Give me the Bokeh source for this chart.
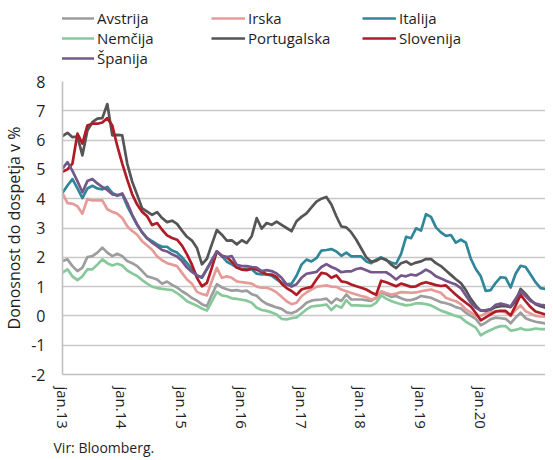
import pandas as pd
from bokeh.plotting import figure
from bokeh.layouts import column
from bokeh.models import Range1d, FixedTicker, Legend, LegendItem, Title, ColumnDataSource
from bokeh.embed import file_html
from bokeh.resources import INLINE

# monthly observations starting jan. 2013
months = pd.date_range("2013-01-01", periods=98, freq="MS")

avstrija = [1.87, 1.93, 1.7, 1.53, 1.65, 2.01, 2.04, 2.16, 2.33, 2.16,
            2.04, 2.12, 2.04, 1.87, 1.8, 1.7, 1.53, 1.35, 1.3, 1.24,
            1.1, 1.17, 1.06, 0.97, 0.84, 0.74, 0.61, 0.52, 0.4, 0.33,
            0.72, 1.08, 0.97, 0.91, 0.86, 0.88, 0.84, 0.86, 0.74, 0.69,
            0.52, 0.41, 0.35, 0.29, 0.24, 0.12, 0.09, 0.16, 0.29, 0.45,
            0.52, 0.55, 0.56, 0.59, 0.43, 0.59, 0.51, 0.73, 0.56, 0.56,
            0.56, 0.54, 0.51, 0.62, 0.81, 0.73, 0.65, 0.68, 0.6, 0.54,
            0.54, 0.59, 0.68, 0.65, 0.62, 0.54, 0.47, 0.43, 0.38, 0.3,
            0.25, 0.11, 0.0, -0.1, -0.32, -0.23, -0.11, -0.06, -0.08, -0.1,
            -0.25, -0.06, 0.11, -0.08, -0.15, -0.2, -0.23, -0.26]

irska = [4.19, 3.85, 3.83, 3.74, 3.49, 3.99, 3.94, 3.94, 3.94, 3.64,
         3.55, 3.49, 3.34, 3.06, 2.9, 2.77, 2.55, 2.4, 2.26, 2.03,
         1.9, 1.8, 1.75, 1.7, 1.47, 1.24, 1.1, 0.82, 0.75, 0.7,
         1.2, 1.64, 1.3, 1.35, 1.3, 1.18, 1.15, 1.13, 1.1, 1.0,
         0.96, 0.96, 0.9, 0.8, 0.65, 0.5, 0.4, 0.45, 0.67, 0.8,
         0.9, 0.99, 1.02, 1.04, 1.0, 0.99, 0.9, 0.84, 0.78, 0.73,
         0.68, 0.64, 0.56, 0.6, 0.84, 0.78, 0.73, 0.76, 0.81, 0.8,
         0.79, 0.8, 0.84, 0.87, 0.9, 0.84, 0.79, 0.62, 0.55, 0.5,
         0.4, 0.22, 0.12, 0.0, 0.0, 0.08, 0.12, 0.16, 0.16, 0.12,
         0.0, 0.2, 0.36, 0.16, 0.08, 0.0, -0.02, -0.03]

italija = [4.2, 4.45, 4.67, 4.35, 4.02, 4.35, 4.44, 4.35, 4.32, 4.4,
           4.2, 4.1, 4.15, 3.75, 3.42, 3.1, 2.85, 2.65, 2.55, 2.44,
           2.36, 2.36, 2.23, 2.16, 2.0, 1.8, 1.6, 1.38, 1.3, 1.6,
           1.9, 2.2, 2.04, 1.85, 1.76, 1.65, 1.59, 1.61, 1.59, 1.44,
           1.42, 1.42, 1.37, 1.25, 1.14, 1.08, 1.1, 1.37, 1.75, 1.92,
           1.86, 1.97, 2.23, 2.25, 2.28, 2.2, 2.05, 2.16, 2.03, 2.03,
           2.03, 1.86, 1.8, 1.92, 2.0, 1.9, 1.82, 1.78, 2.12, 2.7,
           2.65, 2.99, 2.91, 3.47, 3.38, 3.02, 2.85, 2.73, 2.76, 2.5,
           2.6, 2.5, 1.95, 1.6, 1.35, 0.85, 0.88, 1.13, 1.32, 1.3,
           0.97, 1.44, 1.71, 1.67, 1.41, 1.15, 0.95, 0.92]

nemcija = [1.48, 1.59, 1.35, 1.22, 1.35, 1.59, 1.59, 1.75, 1.93, 1.8,
           1.72, 1.78, 1.72, 1.55, 1.45, 1.36, 1.22, 1.1, 1.0, 0.95,
           0.92, 0.9, 0.88, 0.78, 0.65, 0.5, 0.42, 0.35, 0.25, 0.18,
           0.5, 0.82, 0.7, 0.67, 0.6, 0.58, 0.55, 0.52, 0.45, 0.28,
           0.2, 0.17, 0.12, 0.05, -0.1, -0.12, -0.08, -0.05, 0.08, 0.22,
           0.32, 0.34, 0.36, 0.39, 0.2, 0.36, 0.28, 0.54, 0.36, 0.36,
           0.35, 0.34, 0.34, 0.45, 0.7, 0.59, 0.51, 0.45, 0.4, 0.36,
           0.38, 0.43, 0.43, 0.4, 0.36, 0.27, 0.18, 0.12, 0.06, 0.0,
           -0.05, -0.2, -0.3, -0.4, -0.66, -0.56, -0.48, -0.4, -0.35, -0.35,
           -0.5, -0.48, -0.42, -0.48, -0.47, -0.43, -0.45, -0.45]

portugalska = [6.14, 6.25, 6.1, 6.12, 5.48, 6.33, 6.61, 6.73, 6.75, 7.23,
               6.16, 6.18, 6.16, 5.2, 4.58, 4.13, 3.67, 3.56, 3.45, 3.54,
               3.34, 3.2, 3.25, 3.14, 2.91, 2.7, 2.57, 2.32, 1.76, 1.95,
               2.45, 2.93, 2.77, 2.57, 2.58, 2.44, 2.58, 2.49, 2.72, 3.34,
               2.98, 3.17, 3.11, 3.22, 3.11, 3.0, 2.89, 3.23, 3.38, 3.5,
               3.7, 3.9, 4.0, 4.06, 3.8, 3.4, 3.05, 3.02, 2.85, 2.6,
               2.3, 2.0, 1.85, 1.88, 1.97, 1.92, 1.75, 1.63, 1.8, 1.86,
               1.75, 1.82, 1.86, 1.94, 1.94, 1.8, 1.7, 1.55, 1.4, 1.25,
               1.12, 0.88, 0.58, 0.35, 0.18, 0.17, 0.22, 0.3, 0.33, 0.33,
               0.3, 0.5, 0.92, 0.75, 0.55, 0.4, 0.33, 0.28]

slovenija = [4.92, 5.0, 5.2, 6.22, 5.88, 6.5, 6.56, 6.56, 6.6, 6.75,
             6.5, 5.8, 5.2, 4.65, 4.15, 3.8, 3.55, 3.4, 3.1, 3.17,
             2.94, 2.75, 2.66, 2.6, 2.4, 2.1, 1.75, 1.3, 1.01, 1.13,
             1.65, 2.2, 2.05, 2.0, 1.85, 1.65, 1.58, 1.56, 1.62, 1.58,
             1.5, 1.42, 1.41, 1.33, 1.1, 0.95, 0.85, 0.72, 0.9, 0.95,
             0.99, 1.24, 1.47, 1.44, 1.3, 1.38, 1.18, 1.15, 1.07, 1.01,
             0.96, 0.9, 0.8, 0.72, 1.2, 1.15, 1.08, 1.01, 1.1, 1.05,
             0.99, 1.01, 1.1, 1.15, 1.1, 1.05, 1.02, 1.04, 0.88, 0.72,
             0.58, 0.45, 0.32, 0.1, -0.15, -0.05, 0.05, 0.15, 0.17, 0.17,
             0.02, 0.35, 0.72, 0.5, 0.3, 0.15, 0.1, 0.05]

spanija = [5.03, 5.25, 4.95, 4.6, 4.22, 4.6, 4.67, 4.52, 4.4, 4.3,
           4.15, 4.12, 4.18, 3.85, 3.45, 3.12, 2.85, 2.65, 2.5, 2.38,
           2.25, 2.2, 2.1, 2.03, 1.87, 1.65, 1.5, 1.38, 1.32, 1.6,
           1.9, 2.2, 2.05, 2.01, 2.04, 1.74, 1.7, 1.7, 1.67, 1.65,
           1.53, 1.56, 1.53, 1.45, 1.3, 1.08, 1.0, 1.08, 1.3, 1.44,
           1.47, 1.5, 1.67, 1.77, 1.67, 1.6, 1.49, 1.52, 1.52, 1.6,
           1.63, 1.56, 1.49, 1.49, 1.49, 1.49, 1.38, 1.24, 1.38, 1.35,
           1.41, 1.38, 1.47, 1.58, 1.49, 1.35, 1.28, 1.2, 1.13, 1.07,
           0.95, 0.7, 0.45, 0.28, 0.18, 0.2, 0.23, 0.38, 0.42, 0.38,
           0.32, 0.59, 0.85, 0.68, 0.51, 0.42, 0.38, 0.36]

series_names = ["Avstrija", "Irska", "Italija", "Nemčija", "Portugalska", "Slovenija", "Španija"]
series_values = [avstrija, irska, italija, nemcija, portugalska, slovenija, spanija]
series_colors = ["#9d9d9d", "#e59c99", "#31879a", "#88c99c", "#555555", "#b01c25", "#74588a"]

y_ticks = list(range(-2, 9))
x_tick_labels = ["jan.13", "jan.14", "jan.15", "jan.16", "jan.17", "jan.18", "jan.19", "jan.20"]

FONT = "Open Sans"
TXT = "#1e1e1e"
LW = 2.7

x_index = list(range(len(months)))
jan_positions = [i for i, d in enumerate(months) if d.month == 1][:len(x_tick_labels)]

# ---- legend strip (its own small figure above the chart) ----
LEG_H = 68
leg = figure(width=545, height=LEG_H, output_backend="svg", toolbar_location=None,
             x_axis_location=None, y_axis_location=None,
             x_range=Range1d(0, 1), y_range=Range1d(100, 101),
             min_border_left=0, min_border_right=0, min_border_top=0, min_border_bottom=0)
leg.outline_line_color = None
leg.xgrid.visible = False
leg.ygrid.visible = False
items = []
for name, vals, col in zip(series_names, series_values, series_colors):
    r = leg.line(x_index, vals, line_color=col, line_width=LW)
    items.append(LegendItem(label=name, renderers=[r]))
legend = Legend(items=items, ncols=3, orientation="horizontal", location=(-2, 0),
                label_text_font=FONT, label_text_font_size="15px", label_text_color=TXT,
                glyph_width=34, glyph_height=20, label_height=20, label_width=114,
                label_standoff=3, spacing=0, padding=0, margin=0,
                border_line_alpha=0, background_fill_alpha=0)
leg.add_layout(legend)

# ---- main chart ----
p = figure(width=545, height=392, output_backend="svg", toolbar_location=None,
           x_range=Range1d(0, len(months) - 1), y_range=Range1d(-2, 8),
           min_border_left=56, min_border_right=0, min_border_top=13,
           min_border_bottom=84)
p.outline_line_color = None
p.background_fill_color = "white"
p.xgrid.visible = False
p.ygrid.grid_line_color = "#c8c8c8"
p.ygrid.grid_line_width = 1.6

p.yaxis.ticker = FixedTicker(ticks=y_ticks)
p.yaxis.major_label_overrides = {t: str(t) for t in y_ticks}
p.yaxis.axis_line_color = "#c0c0c0"
p.yaxis.axis_line_width = 1.6
p.yaxis.major_tick_line_color = None
p.yaxis.minor_tick_line_color = None
p.yaxis.major_tick_out = 0
p.yaxis.minor_tick_out = 0
p.yaxis.major_label_text_font = FONT
p.yaxis.major_label_text_font_size = "16px"
p.yaxis.major_label_text_color = TXT
p.yaxis.major_label_standoff = 17
p.yaxis.axis_label = "Donosnost do dospetja v %"
p.yaxis.axis_label_text_font = FONT
p.yaxis.axis_label_text_font_size = "16px"
p.yaxis.axis_label_text_font_style = "normal"
p.yaxis.axis_label_text_color = TXT
p.yaxis.axis_label_standoff = 3

p.xaxis.ticker = FixedTicker(ticks=jan_positions)
p.xaxis.major_label_overrides = {pos: lab for pos, lab in zip(jan_positions, x_tick_labels)}
p.xaxis.major_label_orientation = "vertical"
p.xaxis.axis_line_color = "#c0c0c0"
p.xaxis.axis_line_width = 1.6
p.xaxis.major_tick_line_color = None
p.xaxis.minor_tick_line_color = None
p.xaxis.major_tick_out = 0
p.xaxis.minor_tick_out = 0
p.xaxis.major_label_text_font = FONT
p.xaxis.major_label_text_font_size = "15px"
p.xaxis.major_label_text_color = TXT
p.xaxis.major_label_standoff = 12

for name, vals, col in zip(series_names, series_values, series_colors):
    src = ColumnDataSource(dict(x=x_index, y=vals))
    p.line("x", "y", source=src, line_color=col, line_width=LW, line_join="round")

p.add_layout(Title(text="Vir: Bloomberg.", align="left", text_font=FONT, text_font_size="14px",
                   text_font_style="normal", text_color=TXT, offset=-9, standoff=8), "below")

layout = column(leg, p, spacing=0)
open("out.html", "w").write(file_html(layout, INLINE))
